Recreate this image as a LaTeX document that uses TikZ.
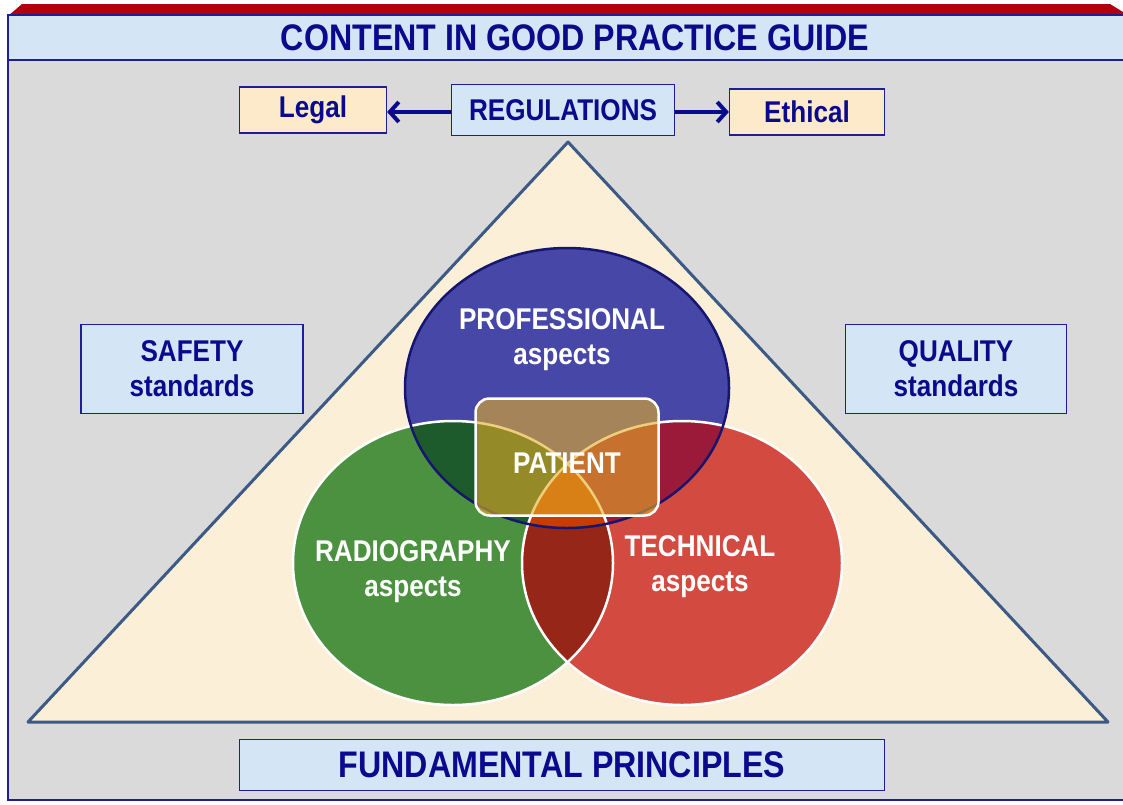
\documentclass[tikz,border=0pt]{standalone}
\usepackage{fontspec}
\setmainfont[FakeStretch=0.87]{Liberation Sans}
\usetikzlibrary{arrows.meta}
\definecolor{navy}{RGB}{10,10,140}
\definecolor{frameC}{RGB}{30,30,150}
\definecolor{paper}{RGB}{218,218,218}
\definecolor{skyC}{RGB}{212,229,246}
\definecolor{peachC}{RGB}{252,234,202}
\definecolor{creamC}{RGB}{251,239,216}
\definecolor{triC}{RGB}{59,90,133}
\definecolor{barC}{RGB}{176,0,16}
\definecolor{blueC}{RGB}{71,71,168}
\definecolor{greenC}{RGB}{76,145,64}
\definecolor{redC}{RGB}{211,74,64}
\definecolor{bgC}{RGB}{29,90,44}
\definecolor{brC}{RGB}{155,26,58}
\definecolor{grC}{RGB}{150,38,24}
\definecolor{allC}{RGB}{200,60,0}
\definecolor{goldC}{RGB}{228,173,38}

\begin{document}
\begin{tikzpicture}[x=1pt,y=-1pt,
    txt/.style={font=\bfseries\fontsize{30}{35}\selectfont,align=center},
    box/.style={txt,draw=frameC,line width=1.2pt,text=navy,inner sep=0pt},
    arr/.style={navy,line width=4.5pt,-{Straight Barb[length=9pt,width=20pt,line width=4pt]}},
    inner/.style={txt,text=white},
    vE/.style={x radius=162pt,y radius=140pt},
    sE/.style={x radius=160pt,y radius=142pt}]
    \useasboundingbox (0,0) rectangle (1123,804);
    % frame and header
    \fill[paper] (8,60) rectangle (1123,800);
    \fill[barC] (8,16) -- (22,4) -- (1110,4) -- (1123,12) -- (1123,16) -- cycle;
    \fill[skyC] (8,15) rectangle (1123,60);
    \draw[frameC,line width=1.5pt] (1123,15) -- (8,15) -- (8,800) -- (1123,800);
    \draw[frameC,line width=1.5pt] (8,60) -- (1123,60);
    \node[txt,text=navy,font=\bfseries\fontsize{37}{40}\selectfont] (title) at (575,38) {CONTENT IN GOOD PRACTICE GUIDE};
    % triangle
    \coordinate (apex) at (568,142);
    \coordinate (bl) at (28,722);
    \coordinate (br) at (1108,722);
    \draw[triC,fill=creamC,line width=3pt,line join=round] (apex) -- (bl) -- (br) -- cycle;
    % circles
    \coordinate (prof) at (567,388);
    \coordinate (radio) at (453,563);
    \coordinate (tech) at (682,563);
    \fill[blueC] (prof) ellipse[vE];
    \fill[greenC] (radio) ellipse[sE];
    \fill[redC] (tech) ellipse[sE];
    \begin{scope}
        \clip (prof) ellipse[vE];
        \fill[bgC] (radio) ellipse[sE];
        \fill[brC] (tech) ellipse[sE];
    \end{scope}
    \begin{scope}
        \clip (radio) ellipse[sE];
        \fill[grC] (tech) ellipse[sE];
        \clip (prof) ellipse[vE];
        \fill[allC] (tech) ellipse[sE];
    \end{scope}
    \draw[white,line width=2.5pt] (radio) ellipse[sE] (tech) ellipse[sE];
    \draw[frameC!75!black,line width=2.5pt] (prof) ellipse[vE];
    \node[txt,white,draw=white,line width=2.5pt,rounded corners=14pt,fill=goldC,fill opacity=0.6,text opacity=1,
        minimum width=183pt,minimum height=117pt] (patient) at (567,457) {\raisebox{-16pt}[0pt][0pt]{PATIENT}};
    \node[inner] (profTxt) at (562,340) {PROFESSIONAL\\aspects};
    \node[inner] (radioTxt) at (413,572) {RADIOGRAPHY\\aspects};
    \node[inner] (techTxt) at (700,567) {TECHNICAL\\aspects};
    % boxes
    \node[box,fill=peachC,minimum width=147pt,minimum height=46pt] (legal) at (313,110) {Legal};
    \node[box,fill=skyC,minimum width=223pt,minimum height=51pt] (reg) at (563,110) {REGULATIONS};
    \node[box,fill=peachC,minimum width=155pt,minimum height=46pt] (ethical) at (807,112) {Ethical};
    \node[box,fill=skyC,minimum width=222pt,minimum height=89pt] (safety) at (192,369) {SAFETY\\standards};
    \node[box,fill=skyC,minimum width=221pt,minimum height=89pt] (quality) at (956,369) {QUALITY\\standards};
    \node[box,fill=skyC,minimum width=645pt,minimum height=51pt,font=\bfseries\fontsize{37}{40}\selectfont] (fund) at (562,765) {FUNDAMENTAL PRINCIPLES};
    \draw[arr] (reg.west |- 0,112) -- (legal.east |- 0,112);
    \draw[arr] (reg.east |- ethical) -- (ethical);
\end{tikzpicture}
\end{document}
